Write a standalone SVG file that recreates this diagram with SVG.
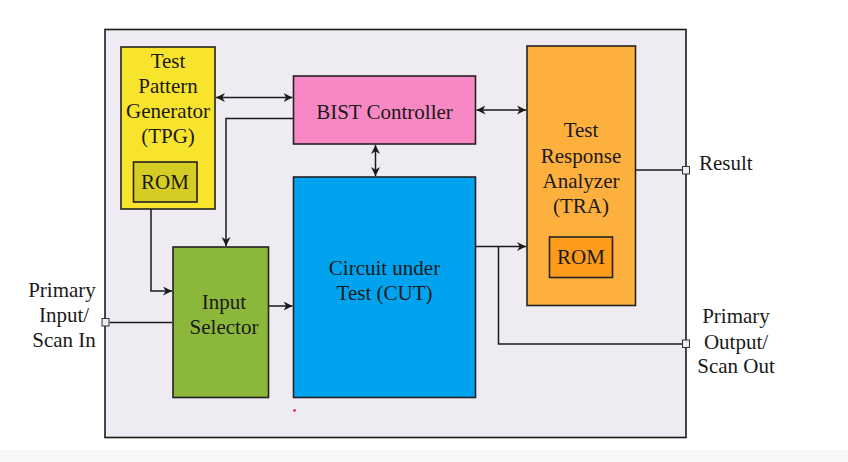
<svg xmlns="http://www.w3.org/2000/svg" width="848" height="462" viewBox="0 0 848 462">
<defs>
<marker id="ah" viewBox="0 0 10 10" refX="10" refY="5" markerWidth="9" markerHeight="9" markerUnits="userSpaceOnUse" orient="auto-start-reverse">
<path d="M0,0 L10,5 L0,10 L3,5 z" fill="#1a1a1a"/>
</marker>
</defs>
<style>
.box{stroke:#222;stroke-width:1.6}
.t{font-family:"Liberation Serif","Times New Roman",serif;font-size:21px;fill:#1a1a1a;text-anchor:middle}
.ln{fill:none;stroke:#1a1a1a;stroke-width:1.5}
.port{fill:#efebf3;stroke:#333;stroke-width:1}
</style>
<rect x="0" y="0" width="848" height="462" fill="#ffffff"/>
<rect x="0" y="450" width="848" height="12" fill="#f7f7f7"/>
<g id="frame">
<rect x="105" y="29.5" width="581" height="408" fill="#efebf3" stroke="#1a1a1a" stroke-width="1.6"/>
</g>
<g id="tpg">
<rect class="box" x="121" y="47" width="94" height="162" fill="#f8e42c"/>
<text class="t" x="168" y="68">Test</text>
<text class="t" x="168" y="93">Pattern</text>
<text class="t" x="168" y="118">Generator</text>
<text class="t" x="168" y="143">(TPG)</text>
<rect class="box" x="133.5" y="162" width="63.5" height="40" fill="#d6cd24"/>
<text class="t" x="165" y="189">ROM</text>
</g>
<g id="bist">
<rect class="box" x="293.5" y="76" width="182" height="68" fill="#f888c4"/>
<text class="t" x="384.5" y="118.5">BIST Controller</text>
</g>
<g id="cut">
<rect class="box" x="293.5" y="177" width="182" height="220.5" fill="#02a3ee"/>
<text class="t" x="384.5" y="275">Circuit under</text>
<text class="t" x="384.5" y="300">Test (CUT)</text>
</g>
<g id="tra">
<rect class="box" x="527" y="46" width="108.5" height="259.5" fill="#fdb03d"/>
<text class="t" x="581" y="137">Test</text>
<text class="t" x="581" y="163">Response</text>
<text class="t" x="581" y="188">Analyzer</text>
<text class="t" x="581" y="213">(TRA)</text>
<rect class="box" x="549.5" y="237" width="63" height="40.5" fill="#fd9c1c"/>
<text class="t" x="581" y="264">ROM</text>
</g>
<g id="input-selector">
<rect class="box" x="173" y="247" width="95.5" height="150.5" fill="#8bb83b"/>
<text class="t" x="224" y="308.5">Input</text>
<text class="t" x="224" y="334">Selector</text>
</g>
<g id="connectors">
<line class="ln" x1="216" y1="97.5" x2="292.5" y2="97.5" marker-start="url(#ah)" marker-end="url(#ah)"/>
<line class="ln" x1="476.5" y1="110" x2="526" y2="110" marker-start="url(#ah)" marker-end="url(#ah)"/>
<line class="ln" x1="375.5" y1="145" x2="375.5" y2="176" marker-start="url(#ah)" marker-end="url(#ah)"/>
<polyline class="ln" points="293.5,118.5 226,118.5 226,246" marker-end="url(#ah)"/>
<polyline class="ln" points="151,209 151,291 172,291" marker-end="url(#ah)"/>
<line class="ln" x1="109.5" y1="322.5" x2="172" y2="322.5"/>
<line class="ln" x1="268.5" y1="306" x2="292.5" y2="306" marker-end="url(#ah)"/>
<line class="ln" x1="475.5" y1="246.5" x2="526" y2="246.5" marker-end="url(#ah)"/>
<polyline class="ln" points="498.5,246.5 498.5,344 682.5,344"/>
<line class="ln" x1="635.5" y1="170" x2="682.5" y2="170"/>
</g>
<g id="ports">
<rect class="port" x="102" y="318.5" width="7" height="7.5"/>
<rect class="port" x="682.5" y="166.5" width="7" height="7.5"/>
<rect class="port" x="682.5" y="340" width="7" height="7.5"/>
</g>
<g id="labels">
<text class="t" x="62" y="297">Primary</text>
<text class="t" x="64" y="322">Input/</text>
<text class="t" x="64" y="347">Scan In</text>
<text class="t" x="699" y="170" style="text-anchor:start">Result</text>
<text class="t" x="736" y="323">Primary</text>
<text class="t" x="736" y="349">Output/</text>
<text class="t" x="736" y="373">Scan Out</text>
</g>
<circle cx="294.5" cy="410.5" r="1.3" fill="#e0101a"/>
</svg>
